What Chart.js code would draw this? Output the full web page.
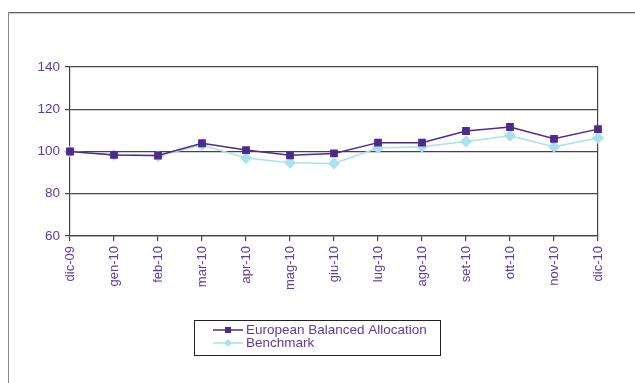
<!DOCTYPE html>
<html>
<head>
<meta charset="utf-8">
<script src="https://cdn.jsdelivr.net/npm/chart.js@4/dist/chart.umd.min.js"></script>
<style>
	html, body { margin: 0; padding: 0; background: #fff; overflow: hidden; }
	#wrap { position: relative; width: 635px; height: 383px; overflow: hidden; }
	#frameTop { position: absolute; left: 8px; top: 12px; width: 627px; height: 1px; background: #666; }
	#frameTop2 { position: absolute; left: 9px; top: 13px; width: 626px; height: 1px; background: #ccc; }
	#frameLeft { position: absolute; left: 8px; top: 12px; width: 1px; height: 371px; background: #888; }
	#c { position: absolute; left: 0; top: 0; }
</style>
</head>
<body>
<div id="wrap">
	<div id="frameTop"></div>
	<div id="frameTop2"></div>
	<div id="frameLeft"></div>
	<canvas id="c" width="635" height="383"></canvas>
</div>
<script>
// mesi
var mesi = ['dic-09','gen-10','feb-10','mar-10','apr-10','mag-10','giu-10','lug-10','ago-10','set-10','ott-10','nov-10','dic-10'];
var fondo = [100, 98.4, 98.1, 103.9, 100.7, 98.2, 99.1, 104.2, 104.2, 109.7, 111.6, 106.0, 110.6];
var benchmark = [100, 98.4, 97.9, 103.1, 96.9, 94.7, 94.3, 101.6, 102.2, 104.7, 107.4, 102.3, 106.4];
var yTicks = [60, 80, 100, 120, 140];

var viola = '#4e2a8e';
var azzurro = '#a9e1ec';
var testo = '#5e3c9e';
var griglia = '#444';

// legenda disegnata nel canvas
var legendaBox = {
	id: 'legendaBox',
	afterDraw: function(chart) {
		var ctx = chart.ctx;
		ctx.save();
		ctx.strokeStyle = '#222';
		ctx.lineWidth = 1;
		ctx.strokeRect(194.5, 320.5, 246, 35);
		ctx.font = '13.5px Arial, "Liberation Sans", sans-serif';
		ctx.textBaseline = 'middle';
		chart.data.datasets.forEach(function(ds, i) {
			var y = 330 + i * 13;
			ctx.strokeStyle = ds.borderColor;
			ctx.lineWidth = 1.5;
			ctx.beginPath();
			ctx.moveTo(213, y);
			ctx.lineTo(243, y);
			ctx.stroke();
			ctx.fillStyle = ds.backgroundColor;
			if (ds.pointStyle == 'rect') {
				ctx.fillRect(225, y - 3, 6, 6);
			} else {
				ctx.beginPath();
				ctx.moveTo(228, y - 4);
				ctx.lineTo(232, y);
				ctx.lineTo(228, y + 4);
				ctx.lineTo(224, y);
				ctx.closePath();
				ctx.fill();
			}
			ctx.fillStyle = testo;
			ctx.fillText(ds.label, 246, y);
		});
		ctx.restore();
	}
};

var ctx = document.getElementById('c').getContext('2d');
var myChart = new Chart(ctx, {
	type: 'line',
	data: {
		labels: mesi,
		datasets: [{
			label: 'European Balanced Allocation',
			data: fondo,
			borderColor: viola,
			backgroundColor: viola,
			borderWidth: 1.5,
			pointStyle: 'rect',
			pointRadius: 5.5,
			pointBorderWidth: 0,
			tension: 0
		}, {
			label: 'Benchmark',
			data: benchmark,
			borderColor: azzurro,
			backgroundColor: azzurro,
			borderWidth: 1.5,
			pointStyle: 'rectRot',
			pointRadius: 6,
			pointBorderWidth: 0,
			tension: 0
		}]
	},
	options: {
		responsive: false,
		animation: false,
		events: [],
		layout: { padding: { left: 0, top: 67, right: 37, bottom: 0 } },
		plugins: {
			legend: { display: false },
			tooltip: { enabled: false }
		},
		scales: {
			x: {
				offset: false,
				afterFit: function(s) { s.height = 383 - 67 - 169; },
				grid: {
					drawOnChartArea: true,
					color: function(c) { return c.index == mesi.length - 1 ? griglia : 'rgba(0,0,0,0)'; },
					tickColor: griglia,
					tickLength: 5,
					lineWidth: 1.2
				},
				border: { color: griglia, width: 1.2 },
				ticks: {
					color: testo,
					font: { family: 'Arial, "Liberation Sans", sans-serif', size: 13 },
					minRotation: 90,
					maxRotation: 90,
					autoSkip: false,
					padding: 5
				}
			},
			y: {
				min: 60,
				max: 140,
				afterFit: function(s) { s.width = 70; },
				afterBuildTicks: function(s) { s.ticks = yTicks.map(function(v) { return { value: v }; }); },
				grid: {
					color: griglia,
					tickColor: griglia,
					tickLength: 5,
					lineWidth: 1.2
				},
				border: { color: griglia, width: 1.2 },
				ticks: {
					color: testo,
					font: { family: 'Arial, "Liberation Sans", sans-serif', size: 13.5 },
					padding: 5
				}
			}
		}
	},
	plugins: [legendaBox]
});
</script>
</body>
</html>
